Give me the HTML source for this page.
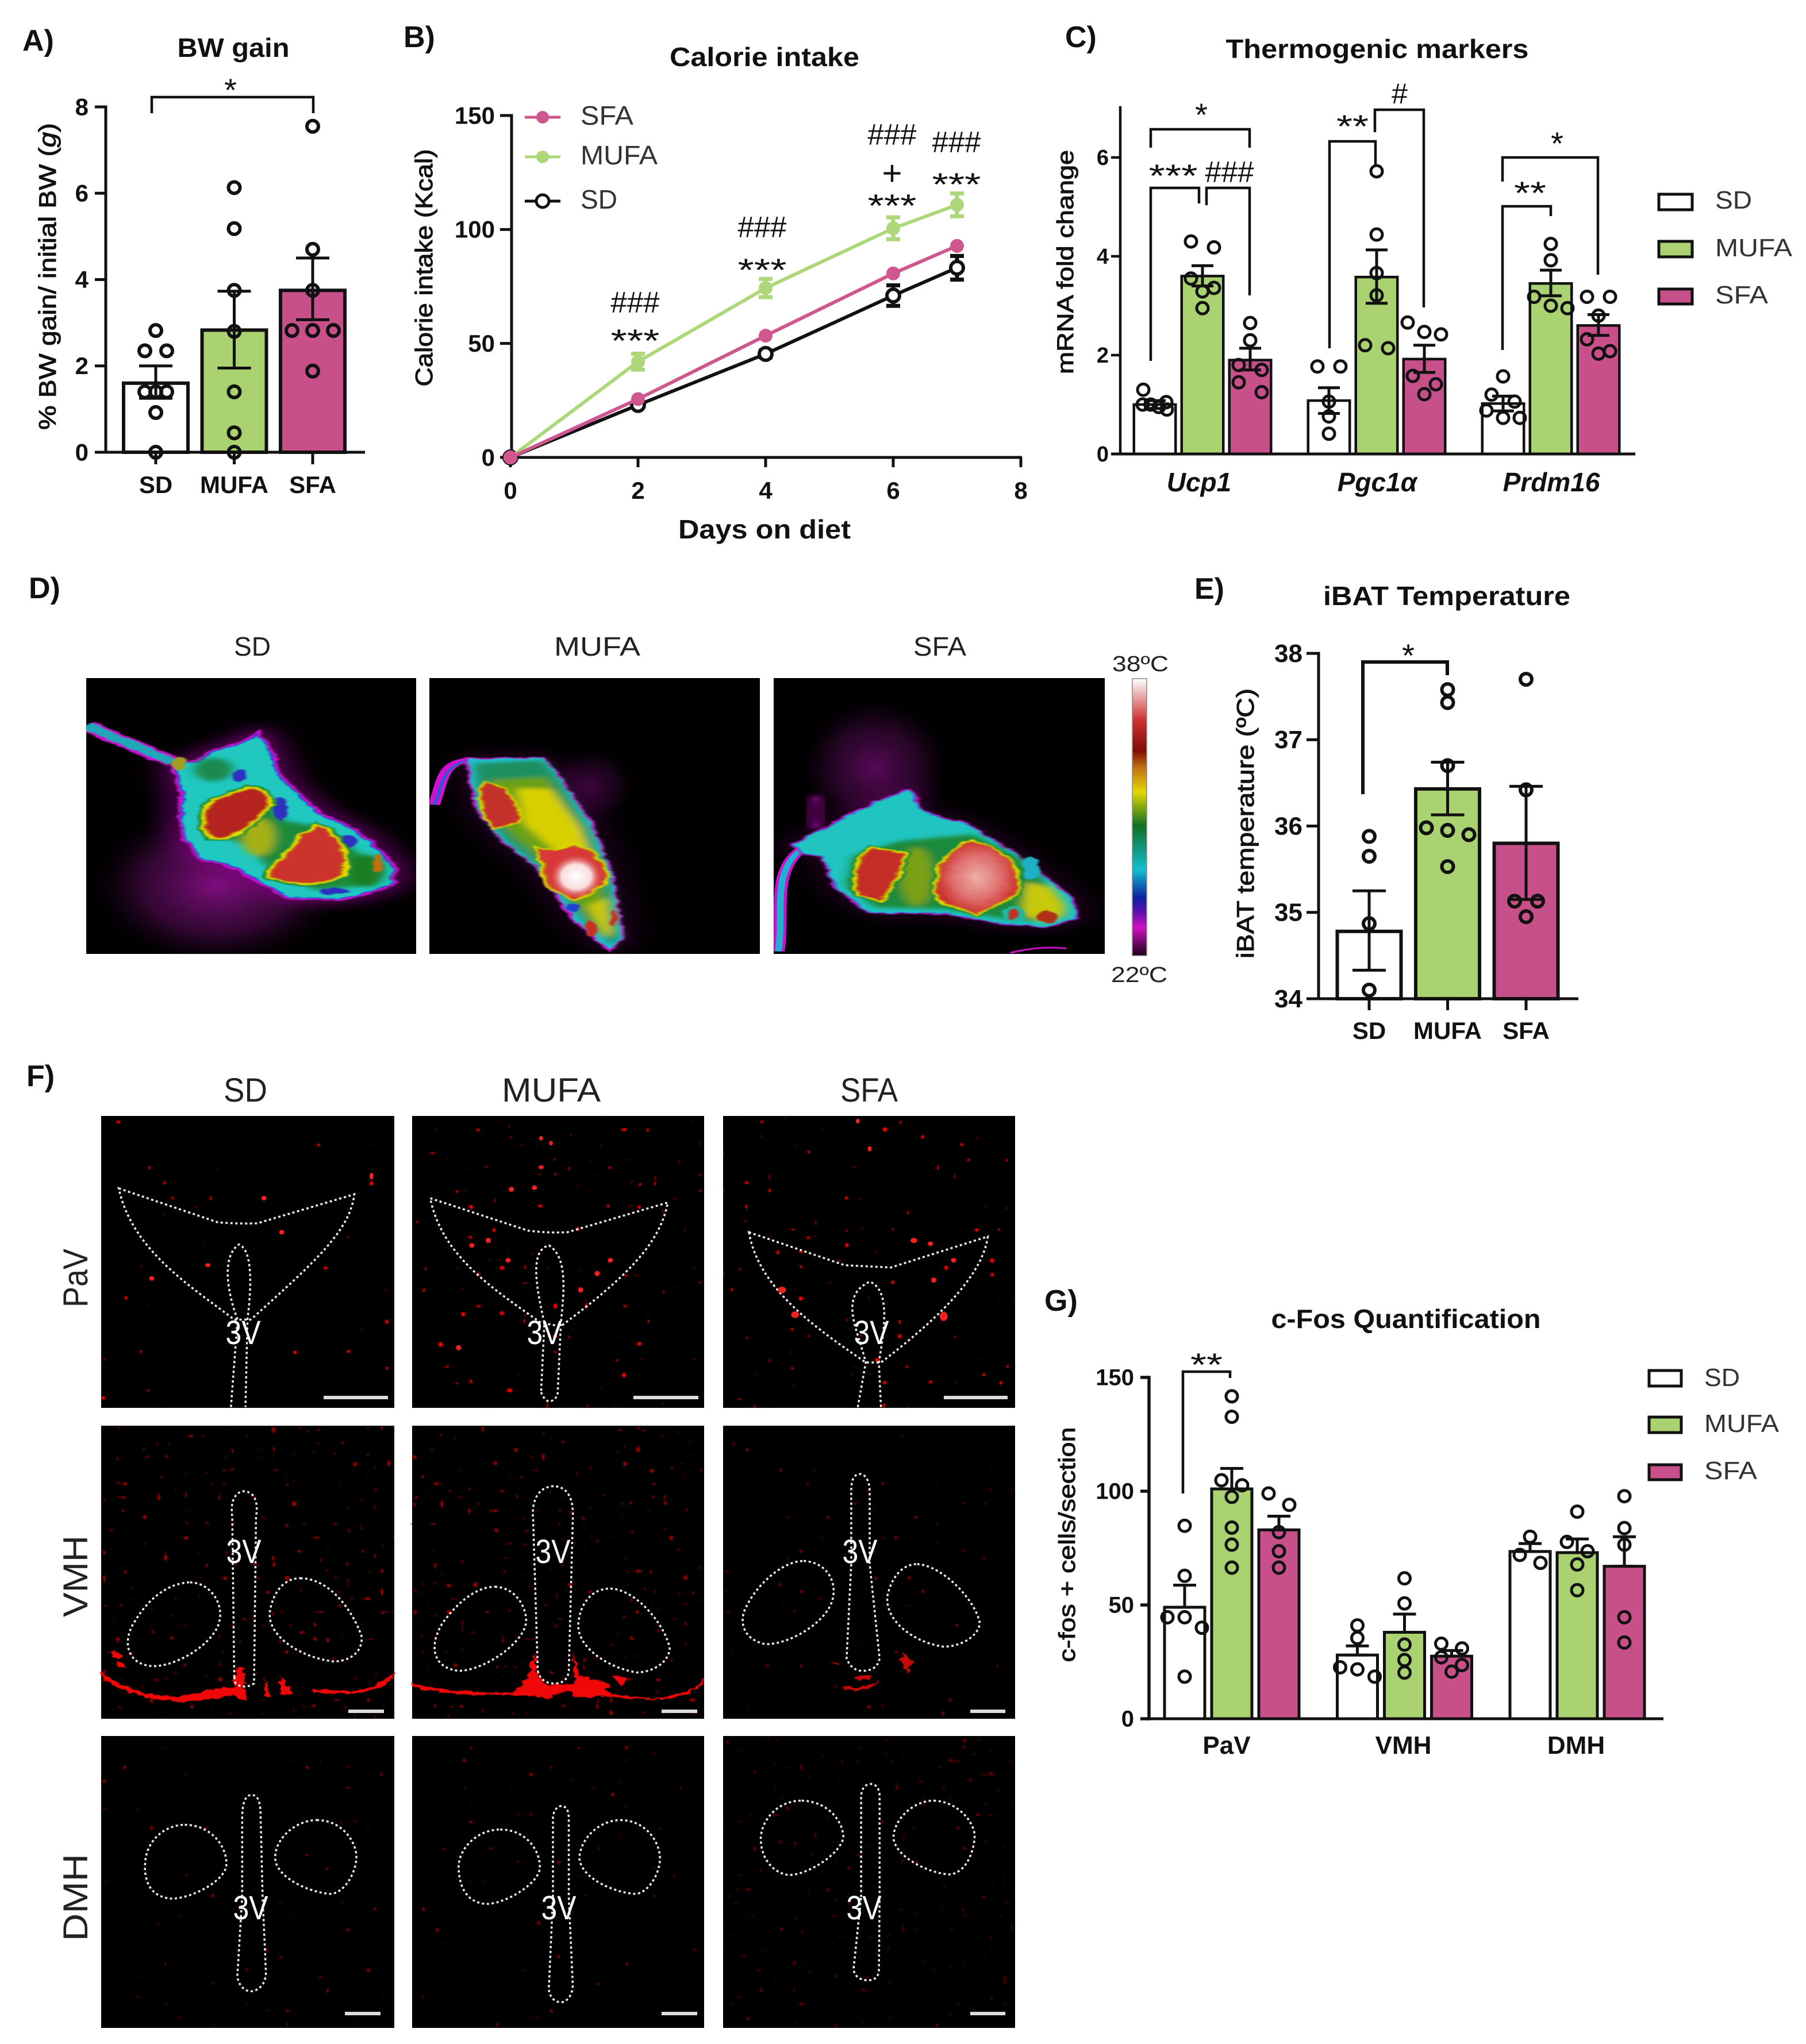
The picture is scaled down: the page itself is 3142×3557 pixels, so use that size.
<!DOCTYPE html>
<html lang="en">
<head>
<meta charset="utf-8">
<title>Diet effects figure</title>
<style>
html,body{margin:0;padding:0;background:#fff;}
svg{display:block;}
text{font-family:"Liberation Sans",sans-serif;fill:#111;}
.b{font-weight:700;}
.semi{stroke:#111;stroke-width:1px;}
.leg{fill:#333;}
.g{fill:#222;}
.w{fill:#fff;}
.br{fill:none;stroke:#111;stroke-width:4.5;}
.ol{fill:none;stroke:#eee;stroke-width:3.5;stroke-dasharray:4 4.5;vector-effect:non-scaling-stroke;}
.sb{stroke:#ddd;stroke-width:6;}
</style>
</head>
<body>
<svg id="fig" xmlns="http://www.w3.org/2000/svg" width="3142" height="3557" viewBox="0 0 3142 3557">
<defs>
<linearGradient id="cbar" x1="0" y1="1" x2="0" y2="0">
<stop offset="0" stop-color="#1a001a"/><stop offset=".1" stop-color="#d010c0"/><stop offset=".16" stop-color="#5a10b0"/><stop offset=".21" stop-color="#1020a0"/><stop offset=".31" stop-color="#10c0d0"/><stop offset=".4" stop-color="#109070"/><stop offset=".47" stop-color="#107020"/><stop offset=".59" stop-color="#e0d800"/><stop offset=".68" stop-color="#c07010"/><stop offset=".74" stop-color="#800c08"/><stop offset=".85" stop-color="#d03030"/><stop offset=".93" stop-color="#e8a0a0"/><stop offset="1" stop-color="#ffffff"/>
</linearGradient>
<radialGradient id="halo"><stop offset="0" stop-color="#a010a0" stop-opacity=".8"/><stop offset=".6" stop-color="#701070" stop-opacity=".45"/><stop offset="1" stop-color="#300030" stop-opacity="0"/></radialGradient>
<radialGradient id="whot"><stop offset="0" stop-color="#fff"/><stop offset=".55" stop-color="#f8dcdc"/><stop offset="1" stop-color="#d83838" stop-opacity="0"/></radialGradient>
<radialGradient id="phot"><stop offset="0" stop-color="#eeb0a8"/><stop offset=".6" stop-color="#e07070"/><stop offset="1" stop-color="#cc3530"/></radialGradient>
<filter id="org" x="-10%" y="-10%" width="120%" height="120%" color-interpolation-filters="sRGB"><feTurbulence type="fractalNoise" baseFrequency=".05" numOctaves="3" seed="5" result="n"/><feDisplacementMap in="SourceGraphic" in2="n" scale="12" xChannelSelector="R" yChannelSelector="G"/><feGaussianBlur stdDeviation="1.6"/></filter>
<filter id="bl2" x="-30%" y="-30%" width="160%" height="160%"><feGaussianBlur stdDeviation="7"/></filter>
<filter id="bl3" x="-40%" y="-40%" width="180%" height="180%"><feGaussianBlur stdDeviation="22"/></filter>
<filter id="red" x="-10%" y="-10%" width="120%" height="120%" color-interpolation-filters="sRGB"><feTurbulence type="fractalNoise" baseFrequency=".08" numOctaves="2" seed="9" result="n"/><feDisplacementMap in="SourceGraphic" in2="n" scale="14" xChannelSelector="R" yChannelSelector="G"/><feGaussianBlur stdDeviation=".8"/></filter>
<filter id="sp1" x="0" y="0" width="1" height="1" color-interpolation-filters="sRGB"><feTurbulence type="fractalNoise" baseFrequency=".075" numOctaves="1" seed="3"/><feColorMatrix values="0 0 0 0 .95 0 0 0 0 0 0 0 0 0 0 14 0 0 0 -10.5"/><feGaussianBlur stdDeviation=".8"/></filter>
<filter id="sp2" x="0" y="0" width="1" height="1" color-interpolation-filters="sRGB"><feTurbulence type="fractalNoise" baseFrequency=".075" numOctaves="1" seed="11"/><feColorMatrix values="0 0 0 0 .95 0 0 0 0 0 0 0 0 0 0 14 0 0 0 -10.1"/><feGaussianBlur stdDeviation=".8"/></filter>
<filter id="sp3" x="0" y="0" width="1" height="1" color-interpolation-filters="sRGB"><feTurbulence type="fractalNoise" baseFrequency=".075" numOctaves="1" seed="23"/><feColorMatrix values="0 0 0 0 .95 0 0 0 0 0 0 0 0 0 0 14 0 0 0 -10.2"/><feGaussianBlur stdDeviation=".8"/></filter>
<filter id="sp4" x="0" y="0" width="1" height="1" color-interpolation-filters="sRGB"><feTurbulence type="fractalNoise" baseFrequency=".085" numOctaves="1" seed="31"/><feColorMatrix values="0 0 0 0 .55 0 0 0 0 0 0 0 0 0 0 14 0 0 0 -9.7"/><feGaussianBlur stdDeviation=".8"/></filter>
<filter id="sp5" x="0" y="0" width="1" height="1" color-interpolation-filters="sRGB"><feTurbulence type="fractalNoise" baseFrequency=".085" numOctaves="1" seed="47"/><feColorMatrix values="0 0 0 0 .45 0 0 0 0 0 0 0 0 0 0 14 0 0 0 -10.3"/><feGaussianBlur stdDeviation=".8"/></filter>
<path id="mb1" d="M235,650 L265,640 L290,600 C315,585 335,570 345,548 L358,600 L372,690 L400,760 L430,825 L470,870 L500,930 L525,1000 L520,1060 L480,1090 L450,1105 L385,1098 L350,1050 L320,1000 L270,965 L250,900 L245,830 L245,740 Z"/>
<path id="mh1" d="M335,730 C365,745 360,790 340,830 C320,880 300,905 285,895 C270,850 275,800 290,770 C305,755 320,745 335,730Z"/>
<path id="mh2" d="M425,860 C450,890 465,960 455,1020 C440,1060 390,1060 362,1030 C365,990 395,950 405,890 Z"/>
<path id="mb2" d="M625,630 L725,628 L745,690 L790,860 L815,1020 L830,1240 L815,1275 L770,1180 L720,1000 L670,900 L640,800 Z"/>
<path id="mh3" d="M650,710 C680,730 695,810 690,845 L660,860 C645,800 640,750 650,710Z"/>
<path id="mh4" d="M720,935 L745,945 L770,925 C800,950 810,1020 805,1050 L770,1105 C740,1080 725,1040 730,1000Z"/>
<path id="mb3" d="M1060,920 C1110,860 1170,770 1215,735 L1230,810 L1290,850 L1360,960 L1430,1100 L1438,1170 L1400,1200 L1340,1190 L1260,1155 L1160,1150 L1120,1070 L1100,960 L1075,950 Z"/>
<path id="mh5" d="M1165,935 L1205,950 C1205,1000 1190,1060 1175,1110 L1150,1090 C1140,1030 1150,970 1165,935Z"/>
<path id="mh6" d="M1300,910 C1350,950 1365,1030 1355,1090 L1305,1155 L1255,1110 C1250,1040 1255,950 1300,910Z"/>
<clipPath id="cp1"><rect x="115" y="353" width="441" height="941"/></clipPath>
<clipPath id="cp2"><rect x="574" y="353" width="441" height="941"/></clipPath>
<clipPath id="cp3"><rect x="1034" y="353" width="442" height="941"/></clipPath>
</defs>

<rect width="3142" height="3557" fill="#fff"/>

<!-- Panel letters -->
<g class="b" font-size="52">
<text class="b" x="39" y="88">A)</text>
<text class="b" x="702" y="82">B)</text>
<text class="b" x="1853" y="82">C)</text>
<text class="b" x="50" y="1041">D)</text>
<text class="b" x="2078" y="1042">E)</text>
<text class="b" x="46" y="1890">F)</text>
<text class="b" x="1817" y="2281">G)</text>
</g>

<!-- Panel A static -->
<g>
<text class="b" x="406" y="99" font-size="46" text-anchor="middle" textLength="195" lengthAdjust="spacingAndGlyphs">BW gain</text>
<text class="semi" x="97" y="481" font-size="42" text-anchor="middle" textLength="534" lengthAdjust="spacingAndGlyphs" transform="rotate(-90 97 481)">% BW gain/ initial BW (<tspan font-style="italic">g</tspan>)</text>
<path class="br" d="M264,197V169H545V197"/>
<text x="401" y="176" font-size="56" text-anchor="middle">*</text>
</g>
<g id="chartA"></g>

<!-- Panel B static -->
<g>
<text class="b" x="1330" y="115" font-size="46" text-anchor="middle" textLength="330" lengthAdjust="spacingAndGlyphs">Calorie intake</text>
<text class="b" x="1330" y="937" font-size="46" text-anchor="middle" textLength="300" lengthAdjust="spacingAndGlyphs">Days on diet</text>
<text class="semi" x="752" y="466" font-size="42" text-anchor="middle" textLength="413" lengthAdjust="spacingAndGlyphs" transform="rotate(-90 752 466)">Calorie intake (Kcal)</text>
<g>
<path d="M913,204H975" stroke="#d0568f" stroke-width="5"/><circle cx="944" cy="204" r="11" fill="#d0568f"/>
<text class="leg" x="1010" y="217" font-size="46" textLength="92" lengthAdjust="spacingAndGlyphs">SFA</text>
<path d="M913,273H975" stroke="#aed77a" stroke-width="5"/><circle cx="944" cy="273" r="11" fill="#aed77a"/>
<text class="leg" x="1010" y="286" font-size="46" textLength="134" lengthAdjust="spacingAndGlyphs">MUFA</text>
<path d="M913,350H975" stroke="#111" stroke-width="5"/><circle cx="944" cy="350" r="11" fill="#fff" stroke="#111" stroke-width="5"/>
<text class="leg" x="1010" y="363" font-size="46" textLength="64" lengthAdjust="spacingAndGlyphs">SD</text>
</g>
<g font-size="52">
<text x="1105" y="544" text-anchor="middle" textLength="85" lengthAdjust="spacingAndGlyphs">###</text>
<text x="1105" y="612" text-anchor="middle" font-size="56" textLength="85" lengthAdjust="spacingAndGlyphs">***</text>
<text x="1326" y="413" text-anchor="middle" textLength="85" lengthAdjust="spacingAndGlyphs">###</text>
<text x="1326" y="489" text-anchor="middle" font-size="56" textLength="85" lengthAdjust="spacingAndGlyphs">***</text>
<text x="1552" y="252" text-anchor="middle" textLength="85" lengthAdjust="spacingAndGlyphs">###</text>
<text x="1552" y="322" text-anchor="middle" font-size="60">+</text>
<text x="1552" y="377" text-anchor="middle" font-size="56" textLength="85" lengthAdjust="spacingAndGlyphs">***</text>
<text x="1664" y="265" text-anchor="middle" textLength="85" lengthAdjust="spacingAndGlyphs">###</text>
<text x="1664" y="340" text-anchor="middle" font-size="56" textLength="85" lengthAdjust="spacingAndGlyphs">***</text>
</g>
</g>
<g id="chartB"></g>

<!-- Panel C static -->
<g>
<text class="b" x="2396" y="101" font-size="46" text-anchor="middle" textLength="527" lengthAdjust="spacingAndGlyphs">Thermogenic markers</text>
<text class="semi" x="1867" y="456" font-size="40" text-anchor="middle" textLength="390" lengthAdjust="spacingAndGlyphs" transform="rotate(-90 1867 456)">mRNA fold change</text>
<g>
<rect x="2886" y="338" width="58" height="27" fill="#fff" stroke="#111" stroke-width="5"/>
<text class="leg" x="2984" y="363" font-size="44" textLength="64" lengthAdjust="spacingAndGlyphs">SD</text>
<rect x="2886" y="420" width="58" height="27" fill="#aad270" stroke="#111" stroke-width="5"/>
<text class="leg" x="2984" y="446" font-size="44" textLength="134" lengthAdjust="spacingAndGlyphs">MUFA</text>
<rect x="2886" y="503" width="58" height="26" fill="#c8508a" stroke="#111" stroke-width="5"/>
<text class="leg" x="2984" y="528" font-size="44" textLength="92" lengthAdjust="spacingAndGlyphs">SFA</text>
</g>
</g>
<g id="chartC"></g>
<g>
<path class="br" d="M2002,257V225H2174V257"/>
<path class="br" d="M2002,628V327H2086V354"/>
<path class="br" d="M2099,357V327H2174V514"/>
<path class="br" d="M2313,606V246H2393V290"/>
<path class="br" d="M2392,230V191H2477V535"/>
<path class="br" d="M2614,609V359H2698V376"/>
<path class="br" d="M2614,316V274H2780V478"/>
<text x="2090" y="219" font-size="56" text-anchor="middle">*</text>
<text x="2041" y="325" font-size="56" text-anchor="middle" textLength="85" lengthAdjust="spacingAndGlyphs">***</text>
<text x="2139" y="317" font-size="52" text-anchor="middle" textLength="85" lengthAdjust="spacingAndGlyphs">###</text>
<text x="2353" y="239" font-size="56" text-anchor="middle" textLength="56" lengthAdjust="spacingAndGlyphs">**</text>
<text x="2435" y="180" font-size="50" text-anchor="middle">#</text>
<text x="2662" y="355" font-size="56" text-anchor="middle" textLength="56" lengthAdjust="spacingAndGlyphs">**</text>
<text x="2709" y="269" font-size="56" text-anchor="middle">*</text>
</g>

<!-- Panel D thermal -->
<g>
<text class="g" x="439" y="1141" font-size="46" text-anchor="middle" textLength="64" lengthAdjust="spacingAndGlyphs">SD</text>
<text class="g" x="1039" y="1141" font-size="46" text-anchor="middle" textLength="150" lengthAdjust="spacingAndGlyphs">MUFA</text>
<text class="g" x="1635" y="1141" font-size="46" text-anchor="middle" textLength="92" lengthAdjust="spacingAndGlyphs">SFA</text>
<rect x="150" y="1180" width="574" height="480" fill="#000"/>
<rect x="747" y="1180" width="575" height="480" fill="#000"/>
<rect x="1346" y="1180" width="576" height="480" fill="#000"/>
<g transform="translate(0,1000) scale(1.302,.5102)">
 <g clip-path="url(#cp1)">
  <ellipse cx="290" cy="1060" rx="165" ry="270" fill="url(#halo)"/>
  <use href="#mb1" fill="none" stroke="#901090" stroke-width="26" filter="url(#bl3)"/>
  <g filter="url(#org)">
   <path d="M115,515 L232,640" fill="none" stroke="#d010d0" stroke-width="32"/>
   <path d="M115,515 L232,640" fill="none" stroke="#20a8b8" stroke-width="21"/>
   <use href="#mb1" fill="#d010d0" stroke="#d010d0" stroke-width="14"/>
   <use href="#mb1" fill="#2040d0" stroke="#2040d0" stroke-width="5"/>
   <use href="#mb1" fill="#20c8c0"/>
  </g>
  <g filter="url(#bl2)">
   <ellipse cx="285" cy="665" rx="26" ry="40" fill="#1f8a50"/>
   <path d="M275,860 L340,730 L380,840 L430,860 L480,950 L510,1030 L495,1060 L420,1075 L360,1000 L330,930Z" fill="#1f8a3a"/>
   <ellipse cx="490" cy="1010" rx="24" ry="55" fill="#1b7d22"/>
   <ellipse cx="345" cy="895" rx="22" ry="65" fill="#a4b018"/>
  </g>
  <g filter="url(#org)">
   <ellipse cx="240" cy="645" rx="10" ry="22" fill="#a0a020"/>
   <ellipse cx="505" cy="985" rx="7" ry="28" fill="#c07010"/>
   <ellipse cx="375" cy="800" rx="9" ry="40" fill="#3030c0"/>
   <ellipse cx="320" cy="685" rx="9" ry="20" fill="#3030c0"/>
   <ellipse cx="465" cy="910" rx="12" ry="22" fill="#3030c0"/>
   <ellipse cx="445" cy="1080" rx="20" ry="13" fill="#3030c0"/>
   <use href="#mh1" fill="#1f8a3a" stroke="#1f8a3a" stroke-width="24"/>
   <use href="#mh1" fill="#e0d800" stroke="#e0d800" stroke-width="15"/>
   <use href="#mh1" fill="#c07010" stroke="#c07010" stroke-width="5"/>
   <use href="#mh1" fill="#b52420"/>
   <use href="#mh2" fill="#1f8a3a" stroke="#1f8a3a" stroke-width="24"/>
   <use href="#mh2" fill="#e0d800" stroke="#e0d800" stroke-width="15"/>
   <use href="#mh2" fill="#c07010" stroke="#c07010" stroke-width="5"/>
   <use href="#mh2" fill="#cb332c"/>
  </g>
 </g>
 <g clip-path="url(#cp2)">
  <ellipse cx="790" cy="720" rx="60" ry="130" fill="url(#halo)" opacity=".45"/>
  <use href="#mb2" fill="none" stroke="#901090" stroke-width="14" filter="url(#bl3)" opacity=".6"/>
  <path d="M580,785 C592,700 590,640 628,632" fill="none" stroke="#d010d0" stroke-width="16"/>
  <path d="M580,785 C592,720 590,650 628,632" fill="none" stroke="#2060d0" stroke-width="4"/>
  <g filter="url(#org)">
   <use href="#mb2" fill="#d010d0" stroke="#d010d0" stroke-width="10"/>
   <use href="#mb2" fill="#20c0d0" stroke="#20c0d0" stroke-width="3"/>
  </g>
  <g filter="url(#bl2)">
   <path d="M635,645 L725,635 L745,700 L785,860 L810,1020 L826,1230 L818,1260 L778,1170 L725,1000 L675,900 L645,800Z" fill="#1f9060" stroke="#1f9060" stroke-width="4"/>
   <path d="M655,700 L730,690 L775,860 L800,1010 L815,1180 L810,1240 L785,1170 L735,1000 L685,890 L650,800Z" fill="#6aa018"/>
   <path d="M690,730 L735,730 L775,860 L790,960 L745,950 L700,850Z" fill="#d8d000"/>
   <path d="M785,1130 L812,1100 L818,1220 L810,1240Z" fill="#c8c810"/>
  </g>
  <g filter="url(#org)">
   <ellipse cx="790" cy="1207" rx="8" ry="26" fill="#c83020"/>
   <ellipse cx="820" cy="1172" rx="5" ry="28" fill="#c83020"/>
   <ellipse cx="765" cy="1135" rx="8" ry="14" fill="#2040d0"/>
   <use href="#mh3" fill="#e0d800" stroke="#e0d800" stroke-width="12"/>
   <use href="#mh3" fill="#c07010" stroke="#c07010" stroke-width="5"/>
   <use href="#mh3" fill="#c4302a"/>
   <use href="#mh4" fill="#e0d800" stroke="#e0d800" stroke-width="14"/>
   <use href="#mh4" fill="#c07010" stroke="#c07010" stroke-width="6"/>
   <use href="#mh4" fill="#d83838"/>
  </g>
  <ellipse cx="770" cy="1030" rx="36" ry="78" fill="url(#whot)"/>
 </g>
 <g clip-path="url(#cp3)">
  <ellipse cx="1170" cy="660" rx="100" ry="240" fill="url(#halo)" opacity=".7"/>
  <ellipse cx="1090" cy="810" rx="8" ry="55" fill="none" stroke="#a010a0" stroke-width="6" filter="url(#bl2)"/>
  <use href="#mb3" fill="none" stroke="#901090" stroke-width="14" filter="url(#bl3)" opacity=".6"/>
  <path d="M1040,1285 C1048,1150 1030,1010 1072,935" fill="none" stroke="#d010d0" stroke-width="17"/>
  <path d="M1040,1285 C1048,1150 1030,1010 1072,935" fill="none" stroke="#20b0d0" stroke-width="9"/>
  <g filter="url(#org)">
   <use href="#mb3" fill="#d010d0" stroke="#d010d0" stroke-width="9"/>
   <use href="#mb3" fill="#2070d0" stroke="#2070d0" stroke-width="4"/>
   <use href="#mb3" fill="#20c4c0"/>
  </g>
  <g filter="url(#bl2)">
   <path d="M1140,960 L1200,910 L1300,885 L1365,970 L1420,1110 L1425,1160 L1400,1185 L1340,1172 L1260,1140 L1170,1135 L1130,1060Z" fill="#1f8a3a"/>
   <ellipse cx="1225" cy="1030" rx="22" ry="100" fill="#7aa018"/>
   <path d="M1370,1050 L1405,1065 L1424,1130 L1420,1165 L1395,1185 L1365,1160Z" fill="#c8c810"/>
  </g>
  <g filter="url(#org)">
   <ellipse cx="1378" cy="1000" rx="12" ry="38" fill="#20b0c8"/>
   <ellipse cx="1355" cy="1158" rx="15" ry="28" fill="#20b8a0"/>
   <ellipse cx="1355" cy="1158" rx="7" ry="18" fill="#c03020"/>
   <ellipse cx="1400" cy="1168" rx="14" ry="20" fill="#b03018"/>
   <use href="#mh5" fill="#1f8a3a" stroke="#1f8a3a" stroke-width="20"/>
   <use href="#mh5" fill="#e0d800" stroke="#e0d800" stroke-width="13"/>
   <use href="#mh5" fill="#c07010" stroke="#c07010" stroke-width="5"/>
   <use href="#mh5" fill="#c42c26"/>
   <use href="#mh6" fill="#1f8a3a" stroke="#1f8a3a" stroke-width="20"/>
   <use href="#mh6" fill="#e0d800" stroke="#e0d800" stroke-width="13"/>
   <use href="#mh6" fill="#c07010" stroke="#c07010" stroke-width="5"/>
   <use href="#mh6" fill="url(#phot)"/>
  </g>
  <path d="M1350,1290 Q1390,1265 1425,1275" fill="none" stroke="#c010c0" stroke-width="6"/>
 </g>
</g>
<rect x="1970" y="1181" width="25" height="482" fill="url(#cbar)" stroke="#888" stroke-width="1.5"/>
<text class="g" x="1984" y="1168" font-size="38" text-anchor="middle" textLength="98" lengthAdjust="spacingAndGlyphs">38ºC</text>
<text class="g" x="1982" y="1709" font-size="38" text-anchor="middle" textLength="98" lengthAdjust="spacingAndGlyphs">22ºC</text>
</g>

<!-- Panel E static -->
<g>
<text class="b" x="2517" y="1053" font-size="46" text-anchor="middle" textLength="430" lengthAdjust="spacingAndGlyphs">iBAT Temperature</text>
<text class="semi" x="2181" y="1433" font-size="42" text-anchor="middle" textLength="470" lengthAdjust="spacingAndGlyphs" transform="rotate(-90 2181 1433)">iBAT temperature (ºC)</text>
<path class="br" style="stroke-width:6" d="M2371,1382V1152H2518V1175"/>
<text x="2450" y="1160" font-size="56" text-anchor="middle">*</text>
</g>
<g id="chartE"></g>

<!-- Panel F -->
<g>
<text class="g" x="427" y="1917" font-size="58" text-anchor="middle" textLength="76" lengthAdjust="spacingAndGlyphs">SD</text>
<text class="g" x="959" y="1917" font-size="58" text-anchor="middle" textLength="172" lengthAdjust="spacingAndGlyphs">MUFA</text>
<text class="g" x="1512" y="1917" font-size="58" text-anchor="middle" textLength="100" lengthAdjust="spacingAndGlyphs">SFA</text>
<text class="g" x="152" y="2224" font-size="60" text-anchor="middle" textLength="102" lengthAdjust="spacingAndGlyphs" transform="rotate(-90 152 2224)">PaV</text>
<text class="g" x="152" y="2743" font-size="60" text-anchor="middle" textLength="142" lengthAdjust="spacingAndGlyphs" transform="rotate(-90 152 2743)">VMH</text>
<text class="g" x="152" y="3302" font-size="60" text-anchor="middle" textLength="152" lengthAdjust="spacingAndGlyphs" transform="rotate(-90 152 3302)">DMH</text>

<rect x="176" y="1942" width="510" height="508" fill="#000"/>
<rect x="717" y="1942" width="508" height="508" fill="#000"/>
<rect x="1258" y="1942" width="508" height="508" fill="#000"/>
<rect x="176" y="2481" width="510" height="510" fill="#000"/>
<rect x="717" y="2481" width="508" height="510" fill="#000"/>
<rect x="1258" y="2481" width="508" height="510" fill="#000"/>
<rect x="176" y="3021" width="510" height="508" fill="#000"/>
<rect x="717" y="3021" width="508" height="508" fill="#000"/>
<rect x="1258" y="3021" width="508" height="508" fill="#000"/>

<g>
<rect x="176" y="1942" width="510" height="508" filter="url(#sp1)"/>
<rect x="717" y="1942" width="508" height="508" filter="url(#sp2)"/>
<rect x="1258" y="1942" width="508" height="508" filter="url(#sp3)"/>
<rect x="176" y="2481" width="510" height="510" filter="url(#sp4)"/>
<rect x="717" y="2481" width="508" height="510" filter="url(#sp4)" transform="translate(1939,0) scale(-1,1)"/>
<rect x="1258" y="2481" width="508" height="510" filter="url(#sp5)"/>
<rect x="176" y="3021" width="510" height="508" filter="url(#sp5)"/>
<rect x="717" y="3021" width="508" height="508" filter="url(#sp5)" transform="translate(1942,0) scale(-1,1)"/>
<rect x="1258" y="3021" width="508" height="508" filter="url(#sp4)" transform="translate(3024,0) scale(-1,1)" opacity=".6"/>
</g>

<g transform="translate(0,1820) scale(1.148,.574)">
<path class="ol" d="M180,432 L330,535 Q360,540 390,538 L537,450 C530,560 480,650 380,830 L355,830 C290,730 200,620 180,432 Z"/>
<path class="ol" d="M350,1095 L360,830 C345,750 335,640 362,602 C385,620 380,750 375,830 L372,1095"/>
<path class="ol" d="M652,462 L800,560 Q830,568 860,565 L1012,475 C1000,600 950,700 850,850 L820,840 C750,740 670,640 652,462Z"/>
<path class="ol" d="M820,1050 Q830,1100 845,1060 L850,840 C855,740 860,640 832,605 C800,620 815,750 825,840 Z"/>
<path class="ol" d="M1135,565 L1280,665 L1350,672 L1497,578 C1490,680 1440,800 1335,960 L1312,960 C1240,860 1150,740 1135,565Z"/>
<path class="ol" d="M1300,1095 L1312,960 C1300,860 1270,760 1318,715 C1350,740 1340,860 1332,960 L1335,1095"/>
<g fill="#f02020">
<ellipse cx="820" cy="280" rx="3" ry="7"/><ellipse cx="835" cy="295" rx="3" ry="7"/><ellipse cx="820" cy="368" rx="4" ry="6"/><ellipse cx="775" cy="435" rx="4" ry="8"/><ellipse cx="810" cy="430" rx="4" ry="7"/>
<ellipse cx="740" cy="590" rx="4" ry="8"/><ellipse cx="715" cy="605" rx="4" ry="7"/><ellipse cx="770" cy="650" rx="4" ry="7"/><ellipse cx="905" cy="690" rx="4" ry="8"/><ellipse cx="925" cy="650" rx="4" ry="7"/><ellipse cx="880" cy="740" rx="4" ry="8"/><ellipse cx="695" cy="915" rx="4" ry="8"/>
<ellipse cx="1185" cy="740" rx="6" ry="10"/><ellipse cx="1205" cy="815" rx="6" ry="10"/><ellipse cx="1430" cy="820" rx="6" ry="14"/><ellipse cx="1445" cy="650" rx="4" ry="7"/><ellipse cx="1415" cy="710" rx="4" ry="8"/><ellipse cx="1385" cy="590" rx="5" ry="8"/><ellipse cx="1410" cy="600" rx="4" ry="7"/><ellipse cx="1300" cy="228" rx="3" ry="7"/><ellipse cx="1318" cy="312" rx="3" ry="8"/>
<ellipse cx="230" cy="705" rx="4" ry="7"/><ellipse cx="315" cy="665" rx="4" ry="6"/><ellipse cx="400" cy="462" rx="4" ry="7"/><ellipse cx="563" cy="395" rx="3" ry="10"/><ellipse cx="427" cy="565" rx="4" ry="7"/>
</g>
</g>
<path class="sb" d="M563,2432H675"/>
<path class="sb" d="M1102,2432H1215"/>
<path class="sb" d="M1642,2432H1753"/>

<g transform="translate(0,2700) scale(1.148,.5466)">
<g fill="#f00808" filter="url(#red)">
<path d="M153,375 C170,420 210,455 260,462 C290,462 310,445 330,435 L370,430 L375,475 L360,472 L355,455 C320,475 290,480 255,475 C210,465 165,430 153,395Z"/>
<path d="M400,395 L410,462 L402,462Z M425,395 L445,455 L425,455Z M475,438 L530,445 L528,453 L475,450Z M530,445 C560,440 585,415 598,380 L598,395 C585,430 560,450 530,453Z M170,310 L185,335 L170,340Z M178,345 L190,365 L180,370Z M358,370 L368,370 L372,430 L352,430Z"/>
</g>
<g fill="#f00808" filter="url(#red)">
<path d="M625,418 C660,440 720,450 780,450 L800,400 L810,320 L815,400 L830,425 L870,420 L868,320 L880,400 L930,455 L990,468 C1030,460 1055,440 1068,400 L1068,420 C1050,455 1020,470 985,472 L920,462 L875,465 L860,440 L830,470 L810,460 L780,457 C720,460 650,450 625,430Z"/>
<path d="M880,395 L925,420 L915,450 L885,440Z M930,395 L950,400 L940,430Z"/>
</g>
<g fill="#c80808" filter="url(#red)">
<path d="M1295,398 L1322,395 L1320,408 L1300,410Z M1280,425 L1300,435 L1335,410 L1320,435 L1298,445 L1282,438Z M1365,320 L1385,350 L1375,390 L1365,350Z M1258,350 L1275,355 L1270,362Z"/>
</g>
<path class="ol" d="M355,400 L352,-110 C348,-170 360,-192 370,-192 C385,-190 392,-160 388,-110 L385,420 Q370,440 357,420Z"/>
<path class="ol" d="M288,98 C320,100 340,170 332,225 C325,290 270,365 232,365 C190,360 185,280 205,220 C225,150 255,100 288,98Z"/>
<path class="ol" d="M455,85 C500,85 535,190 548,270 C550,320 530,350 505,350 C450,335 400,260 410,180 C415,130 430,85 455,85Z"/>
<path class="ol" d="M815,380 Q820,420 840,420 Q860,420 862,380 L868,-100 C870,-170 860,-208 838,-208 C815,-205 805,-160 808,-100Z"/>
<path class="ol" d="M750,112 C785,115 800,190 797,230 C790,300 730,380 695,380 C655,370 650,300 670,230 C690,170 720,112 750,112Z"/>
<path class="ol" d="M925,118 C965,120 1010,240 1015,310 C1012,360 985,385 965,385 C920,370 870,300 877,220 C880,170 895,118 925,118Z"/>
<path class="ol" d="M1290,40 L1283,340 Q1290,380 1308,380 Q1330,378 1333,340 L1318,40 L1318,-190 C1318,-230 1310,-247 1303,-247 C1292,-245 1290,-220 1290,-190Z"/>
<path class="ol" d="M1218,30 C1255,35 1268,100 1262,150 C1255,220 1200,295 1160,295 C1125,280 1120,220 1130,180 C1145,110 1185,30 1218,30Z"/>
<path class="ol" d="M1390,40 C1430,45 1480,160 1485,230 C1480,280 1450,303 1430,303 C1385,290 1340,220 1345,140 C1350,90 1365,40 1390,40Z"/>
<path class="ol" d="M367,1100 L367,850 C367,800 372,775 381,775 C392,775 395,800 395,850 L398,1100 L403,1340 C403,1380 390,1400 380,1400 C368,1400 358,1370 360,1340 Z"/>
<path class="ol" d="M280,870 C320,870 345,940 343,1000 C340,1050 290,1105 260,1105 C225,1100 218,1040 220,990 C222,920 250,870 280,870Z"/>
<path class="ol" d="M480,855 C520,855 542,930 540,980 C538,1030 520,1090 500,1090 C470,1085 418,1040 417,975 C417,910 450,855 480,855Z"/>
<path class="ol" d="M838,1100 L838,850 C838,825 845,810 851,810 C858,810 862,825 862,850 L862,1100 L868,1380 C868,1415 858,1435 850,1435 C840,1435 830,1415 832,1380Z"/>
<path class="ol" d="M758,885 C800,885 820,960 818,1010 C815,1060 765,1122 737,1122 C705,1118 695,1060 695,1000 C697,940 725,885 758,885Z"/>
<path class="ol" d="M940,855 C980,855 1002,930 1000,985 C998,1035 980,1090 962,1090 C930,1085 880,1040 878,975 C880,910 910,855 940,855Z"/>
<path class="ol" d="M1305,1100 L1305,780 C1305,755 1312,740 1319,740 C1328,740 1333,755 1333,780 L1333,1100 L1332,1330 C1332,1355 1325,1365 1316,1365 C1300,1365 1292,1345 1294,1320Z"/>
<path class="ol" d="M1215,793 C1255,795 1278,860 1278,910 C1275,960 1225,1030 1195,1030 C1165,1020 1152,960 1153,910 C1155,850 1180,793 1215,793Z"/>
<path class="ol" d="M1415,793 C1450,795 1478,860 1477,910 C1475,970 1460,1028 1437,1028 C1400,1020 1355,965 1354,910 C1355,850 1385,793 1415,793Z"/>
</g>
<g font-size="58">
<text class="w" x="423" y="2339" text-anchor="middle" textLength="61" lengthAdjust="spacingAndGlyphs">3V</text>
<text class="w" x="947" y="2339" text-anchor="middle" textLength="61" lengthAdjust="spacingAndGlyphs">3V</text>
<text class="w" x="1516" y="2339" text-anchor="middle" textLength="61" lengthAdjust="spacingAndGlyphs">3V</text>
<text class="w" x="424" y="2720" text-anchor="middle" textLength="61" lengthAdjust="spacingAndGlyphs">3V</text>
<text class="w" x="962" y="2720" text-anchor="middle" textLength="61" lengthAdjust="spacingAndGlyphs">3V</text>
<text class="w" x="1496" y="2720" text-anchor="middle" textLength="61" lengthAdjust="spacingAndGlyphs">3V</text>
<text class="w" x="436" y="3340" text-anchor="middle" textLength="61" lengthAdjust="spacingAndGlyphs">3V</text>
<text class="w" x="972" y="3340" text-anchor="middle" textLength="61" lengthAdjust="spacingAndGlyphs">3V</text>
<text class="w" x="1503" y="3340" text-anchor="middle" textLength="61" lengthAdjust="spacingAndGlyphs">3V</text>
</g>
<path class="sb" d="M606,2978H668"/>
<path class="sb" d="M1151,2978H1213"/>
<path class="sb" d="M1688,2978H1749"/>
<path class="sb" d="M600,3504H662"/>
<path class="sb" d="M1151,3504H1213"/>
<path class="sb" d="M1688,3504H1749"/>
</g>

<!-- Panel G static -->
<g>
<text class="b" x="2446" y="2311" font-size="46" text-anchor="middle" textLength="469" lengthAdjust="spacingAndGlyphs">c-Fos Quantification</text>
<text class="semi" x="1870" y="2688" font-size="40" text-anchor="middle" textLength="409" lengthAdjust="spacingAndGlyphs" transform="rotate(-90 1870 2688)">c-fos + cells/section</text>
<path class="br" d="M2058,2599V2387H2140V2398"/>
<text x="2099" y="2394" font-size="56" text-anchor="middle" textLength="56" lengthAdjust="spacingAndGlyphs">**</text>
<g>
<rect x="2869" y="2385" width="56" height="27" fill="#fff" stroke="#111" stroke-width="5"/>
<text class="leg" x="2965" y="2412" font-size="44" textLength="62" lengthAdjust="spacingAndGlyphs">SD</text>
<rect x="2869" y="2466" width="56" height="27" fill="#aad270" stroke="#111" stroke-width="5"/>
<text class="leg" x="2965" y="2492" font-size="44" textLength="130" lengthAdjust="spacingAndGlyphs">MUFA</text>
<rect x="2869" y="2549" width="56" height="26" fill="#c8508a" stroke="#111" stroke-width="5"/>
<text class="leg" x="2965" y="2574" font-size="44" textLength="92" lengthAdjust="spacingAndGlyphs">SFA</text>
</g>
</g>
<g id="chartG"></g>
</svg>

<script>
// ---- Panel A data ----
const aCategories = ['SD', 'MUFA', 'SFA'];
const aMeans = [1.6, 2.83, 3.75];
const aHigh = [2.0, 3.73, 4.5];
const aLow = [1.25, 1.95, 3.07];
const aPointsSD = [2.82, 2.35, 2.35, 1.4, 1.4, 1.4, 0.92, 0];
const aPointsMUFA = [6.13, 5.18, 3.75, 2.8, 1.4, 0.45, 0];
const aPointsSFA = [7.55, 4.7, 3.75, 2.82, 2.82, 2.82, 1.88];
const aTicks = [0, 2, 4, 6, 8];

// ---- Panel B data ----
const bDays = [0, 2, 4, 6, 7];
const bSFA = [0, 25.6, 53.4, 80.7, 92.8];
const bMUFA = [0, 42, 74.3, 100.5, 110.8];
const bSD = [0, 23, 45.4, 71, 83.2];
const bSemSFA = [0, 1, 1, 1.5, 1.5];
const bSemMUFA = [0, 3.5, 4, 4.8, 5];
const bSemSD = [0, 1, 1.5, 4.5, 5.2];
const bYTicks = [0, 50, 100, 150];
const bXTicks = [0, 2, 4, 6, 8];

// ---- Panel C data ----
const cGenes = ['Ucp1', 'Pgc1α', 'Prdm16'];
const cMeanSD = [1, 1.08, 1.02];
const cMeanMUFA = [3.6, 3.58, 3.45];
const cMeanSFA = [1.9, 1.92, 2.6];
const cHighSD = [1.08, 1.34, 1.17];
const cHighMUFA = [3.81, 4.13, 3.72];
const cHighSFA = [2.14, 2.2, 2.82];
const cLowSD = [0.92, 0.82, 0.87];
const cLowMUFA = [3.4, 3.05, 3.2];
const cLowSFA = [1.7, 1.65, 2.4];
const cPointsSD = [[1.3, 1.05, 1.0, 1.0, 0.95, 0.9], [1.77, 1.77, 1.06, 0.76, 0.41], [1.57, 1.2, 1.06, 0.88, 0.73, 0.73]];
const cPointsMUFA = [[4.3, 4.18, 3.55, 3.36, 3.29, 2.95], [5.72, 4.44, 3.66, 3.21, 2.2, 2.14], [4.25, 3.92, 3.18, 3.0, 2.95]];
const cPointsSFA = [[2.65, 2.3, 1.8, 1.7, 1.45, 1.25], [2.66, 2.47, 2.42, 1.58, 1.41, 1.21], [3.18, 3.18, 2.8, 2.32, 2.08, 2.03]];
const cTicks = [0, 2, 4, 6];

// ---- Panel E data ----
const eCategories = ['SD', 'MUFA', 'SFA'];
const eMeans = [34.78, 36.43, 35.8];
const eHigh = [35.25, 36.74, 36.46];
const eLow = [34.33, 36.13, 35.15];
const ePointsSD = [35.88, 35.65, 34.87, 34.1];
const ePointsMUFA = [37.58, 37.43, 36.7, 35.98, 35.95, 35.9, 35.53];
const ePointsSFA = [37.7, 36.42, 35.13, 35.13, 34.95];
const eTicks = [34, 35, 36, 37, 38];

// ---- Panel G data ----
const gRegions = ['PaV', 'VMH', 'DMH'];
const gMeanSD = [49, 28, 73.5];
const gMeanMUFA = [101, 38, 73];
const gMeanSFA = [83, 27.5, 67];
const gHighSD = [58.7, 32, 77];
const gHighMUFA = [110, 46, 79];
const gHighSFA = [89, 30, 80];
const gPointsSD = [[84.8, 62.8, 44.6, 44.6, 40, 18.5], [41, 35.5, 22.6, 21.7, 18.5], [80, 72, 68.5]];
const gPointsMUFA = [[141.7, 132.7, 104.8, 102.6, 97.5, 84, 76.5, 66.4], [61.7, 50.7, 32.6, 25.8, 20.3], [91, 77.7, 73.6, 67.8, 56.5]];
const gPointsSFA = [[99, 94, 82, 73.6, 66.4], [33, 30.9, 27, 23.6, 20.7], [97.8, 83.8, 76.5, 44.6, 33.5]];
const gTicks = [0, 50, 100, 150];

const NS = 'http://www.w3.org/2000/svg';
const GREEN = '#aad270';
const PINK = '#c8508a';
const LINE_GREEN = '#aed77a';
const LINE_PINK = '#d0568f';
const INK = '#111';

function mk(parent, tag, attrs) {
  const e = document.createElementNS(NS, tag);
  for (const k in attrs) e.setAttribute(k, attrs[k]);
  parent.appendChild(e);
  return e;
}
function linear(d0, d1, r0, r1) {
  return function (v) { return r0 + (v - d0) * (r1 - r0) / (d1 - d0); };
}
function drawBar(p, cx, w, yBase, yTop, fill, sw) {
  const el = mk(p, 'rect', { x: cx - w / 2 + sw / 2, y: yTop, width: w - sw, height: yBase - yTop, fill: fill, stroke: INK, 'stroke-width': sw });
  
  
}
function drawError(p, cx, yHi, yLo, cap, sw) {
  const d = 'M' + cx + ',' + yLo + 'V' + yHi + 'M' + (cx - cap) + ',' + yHi + 'H' + (cx + cap) + (yLo !== yHi ? 'M' + (cx - cap) + ',' + yLo + 'H' + (cx + cap) : '');
  const el = mk(p, 'path', { d: d, fill: 'none', stroke: INK, 'stroke-width': sw });
  
  
}
function drawPoints(p, cx, values, sc, thr, gap, gap3, r, sw) {
  const sorted = values.slice().sort(function (a, b) { return b - a; });
  let i = 0;
  while (i < sorted.length) {
    let j = i + 1;
    while (j < sorted.length && sorted[i] - sorted[j] <= thr) j++;
    const n = j - i;
    for (let k = 0; k < n; k++) {
      let off = 0;
      if (n === 2) off = (k === 0 ? -gap : gap);
      else if (n === 3) off = (k - 1) * gap3;
      else if (n > 3) off = (k - (n - 1) / 2) * gap * 0.7;
      const c = mk(p, 'circle', { cx: cx + off, cy: sc(sorted[i + k]), r: r, fill: 'none', stroke: INK, 'stroke-width': sw });
      
      
    }
    i = j;
  }
}
function drawYAxis(p, x, ticks, sc, left, labelX, size, sw, extraTop) {
  const top = extraTop !== undefined ? extraTop : sc(ticks[ticks.length - 1]);
  const axis = mk(p, 'line', { x1: x, x2: x, y1: top - sw / 2, y2: sc(ticks[0]) + sw / 2, stroke: INK, 'stroke-width': sw });
  
  
  ticks.forEach(function (t) {
    const m = mk(p, 'line', { x1: left, x2: x, y1: sc(t), y2: sc(t), stroke: INK, 'stroke-width': sw });
    
    
    const l = mk(p, 'text', { x: labelX, y: sc(t) + size * 0.34, 'font-size': size, 'text-anchor': 'end', class: 'b' });
    l.textContent = t;
    
    
  });
}
function drawXAxis(p, x1, x2, y, sw) {
  const axis = mk(p, 'line', { x1: x1, x2: x2, y1: y, y2: y, stroke: INK, 'stroke-width': sw });
  
  
}
function catLabel(p, x, y, s, size, italic) {
  const l = mk(p, 'text', { x: x, y: y, 'font-size': size, 'text-anchor': 'middle', class: 'b' });
  if (italic) l.setAttribute('font-style', 'italic');
  l.textContent = s;
  
  
}
function xTick(p, x, y0, y1, sw) {
  const m = mk(p, 'line', { x1: x, x2: x, y1: y0, y2: y1, stroke: INK, 'stroke-width': sw });
  
  
}

// ---- Draw Panel A ----
(function () {
  const g = document.getElementById('chartA');
  const y = linear(0, 8, 787, 186);
  const xAt = function (i) { return 271 + 136.5 * i; };
  const fills = ['#fff', GREEN, PINK];
  const pts = [aPointsSD, aPointsMUFA, aPointsSFA];
  aCategories.forEach(function (c, i) {
    drawBar(g, xAt(i), 118, 787, y(aMeans[i]), fills[i], 6);
  });
  aCategories.forEach(function (c, i) {
    drawError(g, xAt(i), y(aHigh[i]), y(aLow[i]), 29, 5);
    drawPoints(g, xAt(i), pts[i], y, 0.1, 19, i === 0 ? 19 : 36, 10, 6);
    xTick(g, xAt(i), 787, 808, 5);
    catLabel(g, xAt(i), 858, c, 42);
  });
  drawYAxis(g, 184, aTicks, y, 165, 154, 42, 5);
  drawXAxis(g, 165, 635, 787, 5);
})();

// ---- Draw Panel B ----
(function () {
  const g = document.getElementById('chartB');
  const x = linear(0, 8, 888, 1776);
  const y = linear(0, 150, 796, 201);
  function series(vals, sem, color, capped, filled) {
    const pts = bDays.map(function (d, i) { return x(d) + ',' + y(vals[i]); }).join(' ');
    const line = mk(g, 'polyline', { points: pts, fill: 'none', stroke: color, 'stroke-width': 6 });
    
    
    bDays.forEach(function (d, i) {
      const cx = x(d);
      const e = mk(g, 'path', { d: 'M' + cx + ',' + y(vals[i] - sem[i]) + 'V' + y(vals[i] + sem[i]) + 'M' + (cx - capped) + ',' + y(vals[i] + sem[i]) + 'H' + (cx + capped) + 'M' + (cx - capped) + ',' + y(vals[i] - sem[i]) + 'H' + (cx + capped), fill: 'none', stroke: color, 'stroke-width': 7 });
      
      
      const c = mk(g, 'circle', { cx: cx, cy: y(vals[i]), r: filled ? 12 : 11, fill: filled ? color : '#fff', stroke: filled ? 'none' : color, 'stroke-width': filled ? 0 : 6 });
      
      
    });
  }
  drawXAxis(g, 870, x(8) + 2, 796, 5);
  bXTicks.forEach(function (t) {
    xTick(g, x(t), 796, 813, 5);
    const l = mk(g, 'text', { x: x(t), y: 868, 'font-size': 42, 'text-anchor': 'middle', class: 'b' });
    l.textContent = t;
    
    
  });
  drawYAxis(g, 890, bYTicks, y, 870, 861, 42, 5);
  series(bSD, bSemSD, INK, 12, false);
  series(bMUFA, bSemMUFA, LINE_GREEN, 12, true);
  series(bSFA, bSemSFA, LINE_PINK, 7, true);
})();

// ---- Draw Panel C ----
(function () {
  const g = document.getElementById('chartC');
  const y = linear(0, 6, 790, 274);
  const xAt = function (i, j) { return 2009 + 303 * i + 83 * j; };
  const means = [cMeanSD, cMeanMUFA, cMeanSFA];
  const highs = [cHighSD, cHighMUFA, cHighSFA];
  const lows = [cLowSD, cLowMUFA, cLowSFA];
  const pts = [cPointsSD, cPointsMUFA, cPointsSFA];
  const fills = ['#fff', GREEN, PINK];
  cGenes.forEach(function (gene, i) {
    for (let j = 0; j < 3; j++) drawBar(g, xAt(i, j), 77, 790, y(means[j][i]), fills[j], 4.5);
    for (let j = 0; j < 3; j++) {
      drawError(g, xAt(i, j), y(highs[j][i]), y(lows[j][i]), 19, 5);
      drawPoints(g, xAt(i, j), pts[j][i], y, 0.25, 20, 29, 10, 5);
    }
    catLabel(g, xAt(i, 1) + (i === 0 ? -6 : 1), 855, gene, 46, true);
  });
  drawYAxis(g, 1949, cTicks, y, 1933, 1929, 38, 4.5, 187);
  drawXAxis(g, 1933, 2845, 790, 5);
})();

// ---- Draw Panel E ----
(function () {
  const g = document.getElementById('chartE');
  const y = linear(34, 38, 1738, 1137);
  const xAt = function (i) { return 2382 + 136.5 * i; };
  const fills = ['#fff', GREEN, PINK];
  const pts = [ePointsSD, ePointsMUFA, ePointsSFA];
  eCategories.forEach(function (c, i) {
    drawBar(g, xAt(i), 117, 1738, y(eMeans[i]), fills[i], 6);
  });
  eCategories.forEach(function (c, i) {
    drawError(g, xAt(i), y(eHigh[i]), y(eLow[i]), 29, 5);
    drawPoints(g, xAt(i), pts[i], y, 0.1, 20, 37, 10, 6);
    xTick(g, xAt(i), 1738, 1758, 5);
    catLabel(g, xAt(i), 1808, c, 42);
  });
  drawYAxis(g, 2294, eTicks, y, 2273, 2266, 44, 5);
  drawXAxis(g, 2273, 2746, 1738, 5);
})();

// ---- Draw Panel G ----
(function () {
  const g = document.getElementById('chartG');
  const y = linear(0, 150, 2991, 2397);
  const xAt = function (i, j) { return 2061 + 300.5 * i + 82 * j; };
  const means = [gMeanSD, gMeanMUFA, gMeanSFA];
  const highs = [gHighSD, gHighMUFA, gHighSFA];
  const pts = [gPointsSD, gPointsMUFA, gPointsSFA];
  const fills = ['#fff', GREEN, PINK];
  gRegions.forEach(function (r, i) {
    for (let j = 0; j < 3; j++) drawBar(g, xAt(i, j), 75, 2991, y(means[j][i]), fills[j], 5);
    for (let j = 0; j < 3; j++) {
      drawError(g, xAt(i, j), y(highs[j][i]), y(means[j][i]), 20, 5);
      drawPoints(g, xAt(i, j), pts[j][i], y, 5, 18, 30, 10, 5);
    }
    catLabel(g, xAt(i, 1) - (i === 0 ? 9 : 2), 3052, r, 44);
  });
  drawYAxis(g, 1999, gTicks, y, 1984, 1973, 40, 5.5);
  drawXAxis(g, 1984, 2894, 2991, 5);
})();
</script>
</body>
</html>
